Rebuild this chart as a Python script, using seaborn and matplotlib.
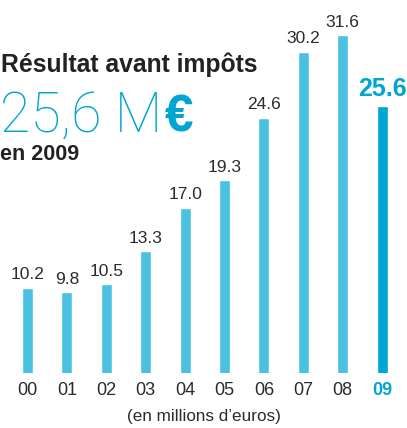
import matplotlib
matplotlib.use("Agg")
import matplotlib.pyplot as plt
import seaborn as sns
import pandas as pd

# data
years = ["00", "01", "02", "03", "04", "05", "06", "07", "08", "09"]
values = [10.2, 9.8, 10.5, 13.3, 17.0, 19.3, 24.6, 30.2, 31.6, 25.6]
labels = ["10.2", "9.8", "10.5", "13.3", "17.0", "19.3", "24.6", "30.2", "31.6", "25.6"]

light = "#4bc1e1"
dark = "#00a5d3"
bar_colors = [light] * 9 + [dark]

sns.set_theme(style="white")
plt.rcParams['font.family'] = ['Liberation Sans', 'DejaVu Sans']

df = pd.DataFrame({"year": years, "value": values})

fig = plt.figure(figsize=(4.07, 4.28), dpi=100)
ax = fig.add_axes([0, 55.3 / 428, 1, 372.7 / 428])

sns.barplot(data=df, x="year", y="value", hue="year", palette=bar_colors,
            width=0.28, dodge=False, legend=False, saturation=1, ax=ax)

ax.set_ylim(3, 34.6)
ax.set_xlim(-0.7, 9.63)
sns.despine(ax=ax, left=True, bottom=True, top=True, right=True)
ax.set_yticks([])
ax.set_xlabel("")
ax.set_ylabel("")

# value labels
for i, (v, lab) in enumerate(zip(values, labels)):
    if i == len(values) - 1:
        ax.annotate(lab, (i, v), xytext=(0, 4), textcoords="offset points",
                    ha="center", va="bottom", fontsize=18, fontweight="bold",
                    color=dark)
    else:
        ax.annotate(lab, (i, v), xytext=(0, 4), textcoords="offset points",
                    ha="center", va="bottom", fontsize=12.5, color="#2b2b2b")

# x tick labels
ax.tick_params(axis="x", length=0, pad=7)
ax.set_xticks(range(len(years)))
ax.set_xticklabels(years, fontsize=13, color="#2b2b2b")
last = ax.get_xticklabels()[-1]
last.set_color(dark)
last.set_fontweight("bold")

# headline texts
fig.text(1 / 407, 1 - 71.7 / 428, "Résultat avant impôts", fontsize=17.8,
         fontweight="bold", color="#222222", ha="left", va="baseline")
big = fig.text(0, 1 - 132 / 428, "25,6 M", fontsize=40,
               fontweight="light", color=dark, family=["Roboto", "Liberation Sans"],
               ha="left", va="baseline")
fig.canvas.draw()
bb = big.get_window_extent()
fig.text((bb.x1 + 3) / 407, 1 - 132 / 428, "€", fontsize=37, fontweight="bold",
         color=dark, ha="left", va="baseline")
fig.text(0 / 407, 1 - 159.5 / 428, "en 2009", fontsize=15.5, fontweight="bold",
         color="#222222", ha="left", va="baseline")

fig.text(204 / 407, 1 - 417 / 428, "(en millions d’euros)", fontsize=12.3,
         color="#2b2b2b", ha="center", va="center")

fig.savefig("out.png", dpi=100, facecolor="white")
